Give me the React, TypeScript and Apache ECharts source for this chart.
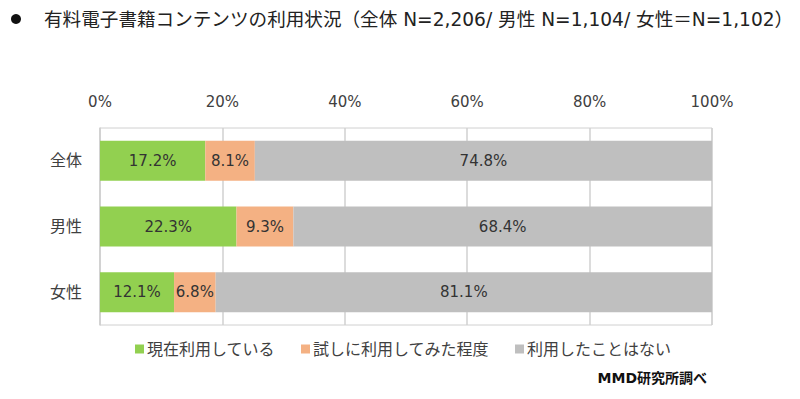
import React, { useEffect, useRef } from "react";
import * as echarts from "echarts";

const categories = ["全体", "男性", "女性"];
const seriesNames = ["現在利用している", "試しに利用してみた程度", "利用したことはない"];
const currentUse = [17.2, 22.3, 12.1];
const triedUse = [8.1, 9.3, 6.8];
const neverUse = [74.8, 68.4, 81.1];
const colors = ["#92D050", "#F4B183", "#BFBFBF"];
const title = "有料電子書籍コンテンツの利用状況（全体 N=2,206/ 男性 N=1,104/ 女性＝N=1,102）";
const source = "MMD研究所調べ";

export default function App() {
  const ref = useRef<HTMLDivElement>(null);
  useEffect(() => {
    document.body.style.margin = "0";
    const chart = echarts.init(ref.current!, null, { renderer: "svg" });
    const font = "'DejaVu Sans', 'Noto Sans CJK JP', sans-serif";
    const values = [currentUse, triedUse, neverUse];
    chart.setOption({
      animation: false,
      textStyle: { fontFamily: font },
      grid: { left: 100, right: 88, top: 128, bottom: 74, show: true, borderColor: "#D0D0D0", borderWidth: 1 },
      xAxis: {
        type: "value",
        position: "top",
        min: 0,
        max: 100,
        interval: 20,
        axisLabel: { formatter: "{value}%", color: "#404040", fontSize: 15, margin: 19 },
        axisLine: { show: false },
        axisTick: { show: false },
        splitLine: { show: true, lineStyle: { color: "#D0D0D0", width: 1.5 } },
      },
      yAxis: {
        type: "category",
        data: categories,
        inverse: true,
        axisLabel: { color: "#404040", fontSize: 16, margin: 18 },
        axisLine: { show: true, lineStyle: { color: "#D0D0D0", width: 1.5 } },
        axisTick: { show: false },
      },
      legend: {
        top: 341,
        left: 135,
        padding: 0,
        icon: "rect",
        itemWidth: 9,
        itemHeight: 9,
        itemGap: 26,
        textStyle: { color: "#404040", fontSize: 16, padding: [0, 0, 0, -2] },
        data: seriesNames,
      },
      series: seriesNames.map((name, i) => ({
        name,
        type: "bar",
        stack: "total",
        barWidth: "61%",
        data: values[i],
        itemStyle: { color: colors[i] },
        label: {
          show: true,
          position: "inside",
          formatter: (p: any) => p.value.toFixed(1) + "%",
          color: "#333",
          fontSize: 15,
        },
      })),
      graphic: [
        { type: "circle", shape: { cx: 16, cy: 19, r: 5 }, style: { fill: "#111" } },
        {
          type: "text",
          x: 44,
          y: 19,
          style: { text: title, fontSize: 18.6, fill: "#222", fontFamily: font, verticalAlign: "middle" },
        },
        {
          type: "text",
          x: 707,
          y: 378,
          style: { text: source, fontSize: 14, fontWeight: "bold", fill: "#111", fontFamily: font, align: "right", verticalAlign: "middle" },
        },
      ],
    });
    return () => chart.dispose();
  }, []);
  return <div ref={ref} style={{ width: 800, height: 399 }} />;
}
